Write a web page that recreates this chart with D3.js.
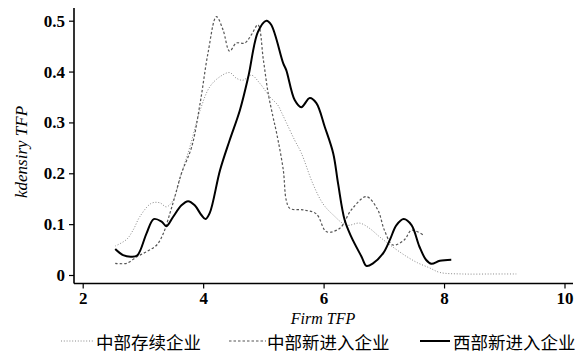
<!DOCTYPE html>
<html><head><meta charset="utf-8">
<script src="https://cdn.jsdelivr.net/npm/d3@7"></script>
<style>body{margin:0;background:#fff}svg{display:block}</style>
</head><body>
<script>
// ---- data ----
const xTicks = [2, 4, 6, 8, 10];
const yTicks = [0, 0.1, 0.2, 0.3, 0.4, 0.5];
const seriesNames = ["中部存续企业", "中部新进入企业", "西部新进入企业"];
const dottedX = [2.54,2.73,2.84,2.95,3.14,3.28,3.39,3.50,3.64,3.78,3.95,4.11,4.28,4.44,4.55,4.66,4.80,4.94,5.11,5.24,5.30,5.38,5.52,5.63,5.82,5.99,6.16,6.38,6.60,6.76,6.93,7.15,7.37,7.56,7.76,7.93,8.31,8.80,9.20];
const dottedY = [0.057,0.070,0.089,0.115,0.141,0.142,0.134,0.147,0.200,0.252,0.324,0.370,0.390,0.398,0.387,0.383,0.393,0.377,0.350,0.334,0.320,0.300,0.265,0.240,0.180,0.140,0.118,0.098,0.102,0.092,0.075,0.055,0.037,0.024,0.014,0.005,0.002,0.002,0.002];
const dashedX = [2.54,2.73,2.90,3.06,3.23,3.34,3.45,3.53,3.64,3.81,3.95,4.08,4.22,4.33,4.44,4.55,4.69,4.80,4.91,5.00,5.08,5.16,5.22,5.33,5.38,5.44,5.66,5.88,6.05,6.27,6.46,6.71,6.90,7.01,7.15,7.34,7.46,7.65];
const dashedY = [0.023,0.023,0.036,0.046,0.059,0.082,0.122,0.154,0.200,0.252,0.338,0.436,0.508,0.482,0.440,0.456,0.456,0.472,0.492,0.423,0.357,0.311,0.279,0.207,0.147,0.131,0.128,0.120,0.085,0.092,0.128,0.154,0.128,0.088,0.059,0.069,0.088,0.079];
const solidX = [2.54,2.67,2.81,2.91,3.06,3.18,3.31,3.39,3.50,3.64,3.75,3.86,3.97,4.04,4.11,4.28,4.44,4.61,4.75,4.91,5.05,5.13,5.33,5.38,5.52,5.63,5.77,5.88,6.02,6.16,6.24,6.35,6.46,6.63,6.71,6.82,6.99,7.10,7.21,7.33,7.46,7.59,7.70,7.79,7.93,8.12];
const solidY = [0.051,0.039,0.036,0.039,0.082,0.110,0.105,0.096,0.114,0.137,0.145,0.137,0.118,0.110,0.122,0.206,0.265,0.324,0.390,0.478,0.500,0.492,0.416,0.403,0.344,0.330,0.348,0.338,0.291,0.239,0.180,0.108,0.075,0.036,0.018,0.023,0.043,0.069,0.098,0.110,0.098,0.056,0.030,0.022,0.028,0.030];

const W = 582, H = 356;
const svg = d3.select("body").append("svg").attr("width", W).attr("height", H);
const x = d3.scaleLinear().domain([2, 10]).range([82.7, 564.5]);
const y = d3.scaleLinear().domain([0, 0.5]).range([275, 20.7]);
const serif = "'Liberation Serif', 'DejaVu Serif', serif";

// axes
const xAxis = svg.append("g").attr("transform", "translate(0,283.5)")
  .call(d3.axisBottom(x).tickValues(xTicks).tickSize(5).tickPadding(3).tickFormat(d3.format("d")));
xAxis.select(".domain").attr("d", "M74,0H573");
const yAxis = svg.append("g").attr("transform", "translate(74,0)")
  .call(d3.axisLeft(y).tickValues(yTicks).tickSize(5).tickPadding(4).tickFormat(d => d === 0 ? "0" : d3.format(".1f")(d)));
yAxis.select(".domain").attr("d", "M0,8V283.5");
svg.selectAll(".domain").attr("stroke", "#000").attr("stroke-width", 1.6);
svg.selectAll(".tick line").attr("stroke", "#000").attr("stroke-width", 1.2);
svg.selectAll(".tick text").attr("font-family", serif).attr("font-size", 17).attr("fill", "#000").attr("font-weight", "bold");

// titles
svg.append("text").attr("x", 323).attr("y", 324).attr("text-anchor", "middle")
  .attr("font-family", serif).attr("font-style", "italic").attr("font-size", 16).text("Firm TFP");
svg.append("text").attr("transform", "translate(27,152) rotate(-90)").attr("text-anchor", "middle")
  .attr("font-family", serif).attr("font-style", "italic").attr("font-size", 17).text("kdensiry TFP");

// lines
const line = d3.line().x(d => x(d[0])).y(d => y(d[1])).curve(d3.curveCatmullRom);
const styles = [
  {xs: dottedX, ys: dottedY, stroke: "#888", width: 1, dash: "1,1.8"},
  {xs: dashedX, ys: dashedY, stroke: "#555", width: 1.2, dash: "2.5,2"},
  {xs: solidX, ys: solidY, stroke: "#000", width: 2, dash: null}
];
styles.forEach(s => {
  svg.append("path").datum(s.xs.map((v, i) => [v, s.ys[i]]))
    .attr("d", line).attr("fill", "none").attr("stroke", s.stroke)
    .attr("stroke-width", s.width).attr("stroke-dasharray", s.dash);
});

// legend
const legendPos = [{x1: 61, x2: 93, tx: 96}, {x1: 229, x2: 266, tx: 267}, {x1: 420, x2: 450, tx: 453}];
legendPos.forEach((p, i) => {
  const s = styles[i];
  svg.append("line").attr("x1", p.x1).attr("x2", p.x2).attr("y1", 341).attr("y2", 341)
    .attr("stroke", s.stroke).attr("stroke-width", s.width).attr("stroke-dasharray", s.dash);
  svg.append("text").attr("x", p.tx).attr("y", 348.5).attr("font-family", "'Noto Sans CJK SC', sans-serif")
    .attr("font-size", 17.5).attr("fill", "#000").text(seriesNames[i]);
});
</script>
</body></html>
